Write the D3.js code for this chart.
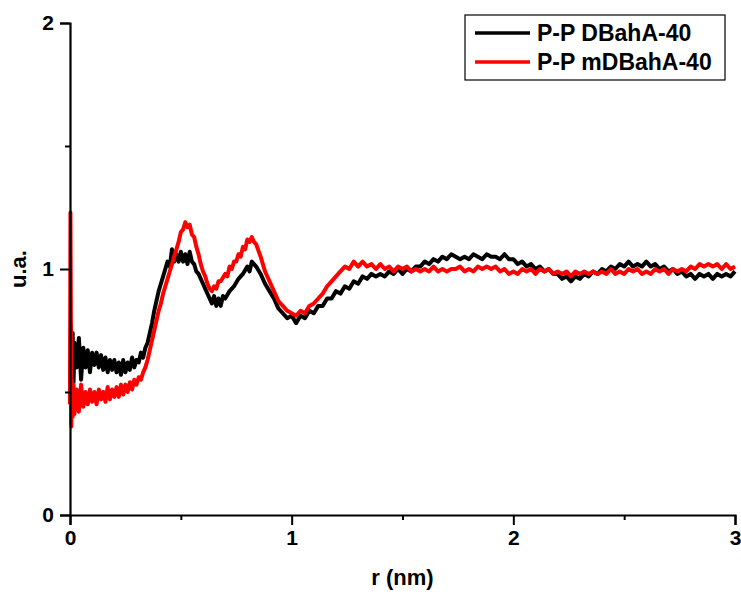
<!DOCTYPE html>
<html>
<head>
<meta charset="utf-8">
<script src="https://d3js.org/d3.v7.min.js"></script>
<style>
  body { margin: 0; background: #fff; }
  text { font-family: "Liberation Sans", Arial, sans-serif; font-weight: bold; }
</style>
</head>
<body>
<div id="chart"></div>
<script>
// r (nm), g(r)
var seriesNames = ["P-P DBahA-40", "P-P mDBahA-40"];
var seriesColors = ["#000000", "#ff0000"];
var xTicks = [0, 1, 2, 3];
var yTicks = [0, 1, 2];

var blackData = [
  [0.000,0.50],[0.004,0.77],[0.008,0.56],[0.012,0.74],[0.016,0.54],[0.02,0.70],[0.03,0.60],[0.04,0.72],[0.05,0.55],
  [0.06,0.68],[0.07,0.60],[0.08,0.67],[0.09,0.58],[0.10,0.66],[0.11,0.61],[0.12,0.66],[0.13,0.60],[0.14,0.65],
  [0.15,0.59],[0.16,0.64],[0.17,0.58],[0.18,0.63],[0.19,0.59],[0.20,0.63],[0.21,0.58],[0.22,0.62],[0.23,0.57],
  [0.24,0.63],[0.25,0.58],[0.26,0.62],[0.27,0.59],[0.28,0.64],[0.29,0.60],[0.30,0.63],[0.31,0.62],[0.32,0.66],
  [0.33,0.64],[0.34,0.68],[0.35,0.70],[0.36,0.74],[0.37,0.78],[0.38,0.83],[0.39,0.87],[0.40,0.91],[0.41,0.94],
  [0.42,0.97],[0.43,1.00],[0.44,1.03],[0.45,1.01],[0.46,1.08],[0.47,1.03],[0.48,1.06],[0.49,1.03],[0.50,1.07],
  [0.51,1.03],[0.52,1.06],[0.53,1.02],[0.54,1.07],[0.55,1.03],[0.56,1.02],[0.57,0.99],[0.58,0.98],[0.60,0.94],
  [0.62,0.90],[0.63,0.88],[0.64,0.86],[0.65,0.89],[0.66,0.85],[0.67,0.88],[0.68,0.85],[0.69,0.89],[0.70,0.88],
  [0.72,0.91],[0.74,0.93],[0.76,0.96],[0.78,0.98],[0.80,1.01],[0.81,0.99],[0.82,1.03],[0.83,1.02],[0.84,1.01],
  [0.86,0.98],[0.88,0.94],[0.90,0.91],[0.92,0.88],[0.94,0.84],[0.96,0.82],[0.98,0.80],[1.00,0.81],[1.02,0.78],
  [1.04,0.81],[1.06,0.80],[1.08,0.83],[1.10,0.82],[1.12,0.85],[1.14,0.85],[1.16,0.88],[1.18,0.88],[1.20,0.91],
  [1.22,0.90],[1.24,0.93],[1.26,0.92],[1.28,0.95],[1.30,0.94],[1.32,0.97],[1.34,0.96],[1.36,0.98],[1.38,0.97],
  [1.40,0.98],[1.42,0.97],[1.44,0.99],[1.46,0.98],[1.48,1.00],[1.50,0.98],[1.52,1.00],[1.54,0.99],[1.56,1.01],
  [1.58,1.01],[1.60,1.03],[1.62,1.02],[1.64,1.04],[1.66,1.03],[1.68,1.05],[1.70,1.04],[1.72,1.06],[1.74,1.05],
  [1.76,1.04],[1.78,1.05],[1.80,1.04],[1.82,1.06],[1.84,1.05],[1.86,1.04],[1.88,1.06],[1.90,1.05],[1.92,1.05],
  [1.94,1.04],[1.96,1.06],[1.98,1.04],[2.00,1.04],[2.02,1.02],[2.04,1.03],[2.06,1.01],[2.08,1.02],[2.10,1.00],
  [2.12,1.01],[2.14,0.99],[2.16,1.00],[2.18,0.98],[2.20,0.98],[2.22,0.96],[2.24,0.97],[2.26,0.95],[2.28,0.97],
  [2.30,0.96],[2.32,0.98],[2.34,0.97],[2.36,0.99],[2.38,0.98],[2.40,1.00],[2.42,0.99],[2.44,1.01],[2.46,1.00],
  [2.48,1.02],[2.50,1.01],[2.52,1.03],[2.54,1.01],[2.56,1.02],[2.58,1.01],[2.60,1.03],[2.62,1.01],[2.64,1.02],
  [2.66,1.00],[2.68,1.01],[2.70,0.99],[2.72,1.00],[2.74,0.98],[2.76,0.99],[2.78,0.97],[2.80,0.98],[2.82,0.96],
  [2.84,0.98],[2.86,0.97],[2.88,0.98],[2.90,0.96],[2.92,0.98],[2.94,0.97],[2.96,0.98],[2.98,0.97],[3.00,0.99]
];

var redData = [
  [0.000,0.45],[0.002,1.23],[0.004,0.80],[0.006,0.36],[0.008,0.55],[0.012,0.40],[0.016,0.53],[0.02,0.41],
  [0.03,0.51],[0.04,0.42],[0.05,0.53],[0.06,0.44],[0.07,0.50],[0.08,0.45],[0.09,0.51],[0.10,0.46],[0.11,0.50],
  [0.12,0.45],[0.13,0.51],[0.14,0.47],[0.15,0.50],[0.16,0.46],[0.17,0.52],[0.18,0.47],[0.19,0.51],[0.20,0.48],
  [0.21,0.52],[0.22,0.48],[0.23,0.53],[0.24,0.49],[0.25,0.53],[0.26,0.50],[0.27,0.54],[0.28,0.51],[0.29,0.55],
  [0.30,0.53],[0.31,0.56],[0.32,0.55],[0.33,0.58],[0.34,0.60],[0.35,0.63],[0.36,0.67],[0.37,0.71],[0.38,0.75],
  [0.39,0.79],[0.40,0.83],[0.41,0.86],[0.42,0.90],[0.43,0.93],[0.44,0.96],[0.45,0.99],[0.46,1.02],[0.47,1.05],
  [0.48,1.08],[0.49,1.11],[0.50,1.15],[0.51,1.16],[0.52,1.19],[0.53,1.17],[0.54,1.18],[0.55,1.14],[0.56,1.13],
  [0.57,1.09],[0.58,1.06],[0.59,1.02],[0.60,0.99],[0.61,0.97],[0.62,0.94],[0.63,0.92],[0.64,0.91],[0.65,0.93],
  [0.66,0.92],[0.67,0.95],[0.68,0.95],[0.70,0.98],[0.71,0.97],[0.72,1.01],[0.73,1.00],[0.74,1.03],[0.75,1.03],
  [0.76,1.06],[0.77,1.05],[0.78,1.09],[0.79,1.08],[0.80,1.12],[0.81,1.11],[0.82,1.13],[0.83,1.11],[0.84,1.10],
  [0.86,1.05],[0.88,0.99],[0.90,0.95],[0.92,0.91],[0.94,0.87],[0.96,0.85],[0.98,0.83],[1.00,0.82],[1.02,0.81],
  [1.04,0.83],[1.06,0.82],[1.08,0.85],[1.10,0.86],[1.12,0.88],[1.14,0.90],[1.16,0.93],[1.18,0.95],[1.20,0.97],
  [1.22,0.99],[1.24,1.01],[1.26,1.00],[1.28,1.03],[1.30,1.01],[1.32,1.03],[1.34,1.01],[1.36,1.02],[1.38,1.00],
  [1.40,1.02],[1.42,1.00],[1.44,1.01],[1.46,0.99],[1.48,1.01],[1.50,1.00],[1.52,1.01],[1.54,0.99],[1.56,1.00],
  [1.58,0.99],[1.60,1.00],[1.62,0.99],[1.64,1.01],[1.66,0.99],[1.68,1.00],[1.70,0.99],[1.72,1.00],[1.74,1.00],
  [1.76,1.01],[1.78,0.99],[1.80,1.00],[1.82,0.99],[1.84,1.01],[1.86,1.00],[1.88,1.01],[1.90,1.00],[1.92,1.01],
  [1.94,0.99],[1.96,1.00],[1.98,0.98],[2.00,0.99],[2.02,0.98],[2.04,1.00],[2.06,0.99],[2.08,1.00],[2.10,0.98],
  [2.12,1.00],[2.14,0.99],[2.16,1.00],[2.18,0.98],[2.20,0.99],[2.22,0.98],[2.24,0.99],[2.26,0.97],[2.28,0.99],
  [2.30,0.98],[2.32,0.99],[2.34,0.98],[2.36,0.99],[2.38,0.98],[2.40,0.99],[2.42,0.98],[2.44,1.00],[2.46,0.98],
  [2.48,0.99],[2.50,0.98],[2.52,1.00],[2.54,0.99],[2.56,1.00],[2.58,0.98],[2.60,0.99],[2.62,0.98],[2.64,1.00],
  [2.66,0.99],[2.68,1.00],[2.70,0.98],[2.72,1.00],[2.74,0.99],[2.76,1.00],[2.78,0.99],[2.80,1.01],[2.82,1.00],
  [2.84,1.02],[2.86,1.01],[2.88,1.02],[2.90,1.01],[2.92,1.02],[2.94,1.00],[2.96,1.02],[2.98,1.00],[3.00,1.01]
];

var W = 741, H = 592;
var margin = { top: 23, right: 6, bottom: 77, left: 70 };
var width = W - margin.left - margin.right,
    height = H - margin.top - margin.bottom;

var svg = d3.select("#chart").append("svg")
  .attr("width", W)
  .attr("height", H);

var g = svg.append("g")
  .attr("transform", "translate(" + margin.left + "," + margin.top + ")");

var xScale = d3.scaleLinear().domain([0, 3]).range([0, width]);
var yScale = d3.scaleLinear().domain([0, 2]).range([height, 0]);

var line = d3.line()
  .x(function(d) { return xScale(d[0]); })
  .y(function(d) { return yScale(d[1]); });

[blackData, redData].forEach(function(data, i) {
  g.append("path")
    .datum(data)
    .attr("fill", "none")
    .attr("stroke", seriesColors[i])
    .attr("stroke-width", 4)
    .attr("stroke-linejoin", "round")
    .attr("d", line);
});

// minor ticks
var minorX = [0.5, 1.5, 2.5];
var minorY = [0.5, 1.5];

g.append("g")
  .attr("transform", "translate(0," + height + ")")
  .call(d3.axisBottom(xScale).tickValues(xTicks).tickSize(10).tickPadding(5).tickFormat(d3.format("d")));
g.append("g")
  .call(d3.axisLeft(yScale).tickValues(yTicks).tickSize(10).tickPadding(6).tickFormat(d3.format("d")));

g.append("g")
  .attr("transform", "translate(0," + height + ")")
  .call(d3.axisBottom(xScale).tickValues(minorX).tickSize(5).tickFormat(""))
  .select(".domain").remove();
g.append("g")
  .call(d3.axisLeft(yScale).tickValues(minorY).tickSize(5).tickFormat(""))
  .select(".domain").remove();

g.selectAll(".domain").attr("stroke-width", 2.2);
g.selectAll(".tick line").attr("stroke-width", 2);
g.selectAll(".tick text").attr("font-size", 21).attr("fill", "#000");

// axis titles
svg.append("text")
  .attr("x", margin.left + width / 2)
  .attr("y", 585)
  .attr("text-anchor", "middle")
  .attr("font-size", 22)
  .text("r (nm)");

svg.append("text")
  .attr("transform", "translate(26," + (margin.top + height / 2) + ") rotate(-90)")
  .attr("text-anchor", "middle")
  .attr("font-size", 22)
  .text("u.a.");

// legend
var legend = svg.append("g");
legend.append("rect")
  .attr("x", 465).attr("y", 15)
  .attr("width", 260).attr("height", 65)
  .attr("fill", "#fff")
  .attr("stroke", "#000")
  .attr("stroke-width", 1.2);

seriesNames.forEach(function(name, i) {
  var yy = 33 + i * 29;
  legend.append("line")
    .attr("x1", 475).attr("x2", 530)
    .attr("y1", yy).attr("y2", yy)
    .attr("stroke", seriesColors[i])
    .attr("stroke-width", 3.5);
  legend.append("text")
    .attr("x", 537).attr("y", yy + 8)
    .attr("font-size", 23)
    .text(name);
});
</script>
</body>
</html>
